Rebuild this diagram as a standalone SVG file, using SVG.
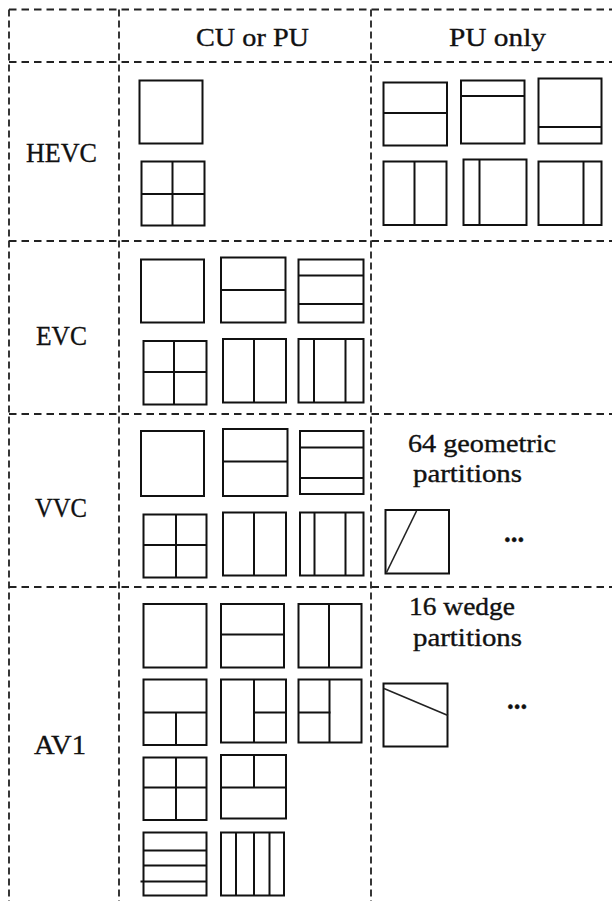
<svg xmlns="http://www.w3.org/2000/svg" width="612" height="901" viewBox="0 0 612 901">
  <style>
    .bg { fill: #ffffff; }
    .gh { stroke: #222; stroke-width: 2; stroke-dasharray: 7.5 5; fill: none; }
    .gv { stroke: #222; stroke-width: 1.8; stroke-dasharray: 7 4; fill: none; }
    .blk { fill: none; stroke: #111; stroke-width: 2; }
    .div { stroke: #111; stroke-width: 2; fill: none; }
    .diag { stroke: #222; stroke-width: 1.6; fill: none; }
    .hd, .lbl, .note, .dots { font-family: "Liberation Serif", "Times New Roman", serif; fill: #111; stroke: #111; stroke-width: 0.35; }
    .hd { font-size: 26px; }
    .lbl { font-size: 27px; }
    .note { font-size: 25px; }
    .dots { font-size: 27px; font-weight: bold; }
  </style>

  <rect class="bg" x="0" y="0" width="612" height="901"/>

  <!-- dashed table grid -->
  <g id="grid">
    <line class="gh" x1="9" y1="9.5" x2="612" y2="9.5"/>
    <line class="gh" x1="9" y1="62" x2="612" y2="62"/>
    <line class="gh" x1="9" y1="241" x2="612" y2="241"/>
    <line class="gh" x1="9" y1="414" x2="612" y2="414"/>
    <line class="gh" x1="9" y1="587" x2="612" y2="587"/>
    <line class="gv" x1="9" y1="9.5" x2="9" y2="901"/>
    <line class="gv" x1="119" y1="9.5" x2="119" y2="901"/>
    <line class="gv" x1="371" y1="9.5" x2="371" y2="901"/>
  </g>

  <!-- column headings -->
  <g id="headings">
    <text class="hd" x="196" y="46" textLength="113" lengthAdjust="spacingAndGlyphs">CU or PU</text>
    <text class="hd" x="449" y="46" textLength="97" lengthAdjust="spacingAndGlyphs">PU only</text>
  </g>

  <!-- row labels -->
  <g id="row-labels">
    <text class="lbl" x="26" y="162" textLength="71" lengthAdjust="spacingAndGlyphs">HEVC</text>
    <text class="lbl" x="36" y="345" textLength="51" lengthAdjust="spacingAndGlyphs">EVC</text>
    <text class="lbl" x="35" y="517" textLength="52" lengthAdjust="spacingAndGlyphs">VVC</text>
    <text class="lbl" x="34" y="754" textLength="52" lengthAdjust="spacingAndGlyphs">AV1</text>
  </g>

  <!-- HEVC: CU or PU -->
  <g id="hevc-cu">
    <rect class="blk" x="139.5" y="80.5" width="63" height="63"/>
    <rect class="blk" x="141.5" y="161.5" width="63" height="64"/>
    <line class="div" x1="172.5" y1="161.5" x2="172.5" y2="225.5"/>
    <line class="div" x1="141.5" y1="194" x2="204.5" y2="194"/>
  </g>

  <!-- HEVC: PU only -->
  <g id="hevc-pu">
    <rect class="blk" x="383.5" y="82.5" width="63.5" height="63"/>
    <line class="div" x1="383.5" y1="113" x2="447" y2="113"/>
    <rect class="blk" x="461" y="80.5" width="63.5" height="63"/>
    <line class="div" x1="461" y1="96" x2="524.5" y2="96"/>
    <rect class="blk" x="538.5" y="78.5" width="63" height="65"/>
    <line class="div" x1="538.5" y1="127" x2="601.5" y2="127"/>
    <rect class="blk" x="383.5" y="161.5" width="63" height="63.5"/>
    <line class="div" x1="414.5" y1="161.5" x2="414.5" y2="225"/>
    <rect class="blk" x="463.5" y="159.5" width="63" height="65.5"/>
    <line class="div" x1="479.5" y1="159.5" x2="479.5" y2="225"/>
    <rect class="blk" x="538.5" y="161.5" width="63" height="63.5"/>
    <line class="div" x1="583.5" y1="161.5" x2="583.5" y2="225"/>
  </g>

  <!-- EVC: CU or PU -->
  <g id="evc-cu">
    <rect class="blk" x="141" y="259.5" width="63" height="63"/>
    <rect class="blk" x="221" y="257.5" width="64.5" height="65"/>
    <line class="div" x1="221" y1="290" x2="285.5" y2="290"/>
    <rect class="blk" x="298.5" y="259.5" width="65" height="63"/>
    <line class="div" x1="298.5" y1="275.5" x2="363.5" y2="275.5"/>
    <line class="div" x1="298.5" y1="304" x2="363.5" y2="304"/>
    <rect class="blk" x="143.5" y="341" width="63" height="63.5"/>
    <line class="div" x1="174" y1="341" x2="174" y2="404.5"/>
    <line class="div" x1="143.5" y1="372" x2="206.5" y2="372"/>
    <rect class="blk" x="223" y="339" width="63" height="63.5"/>
    <line class="div" x1="254" y1="339" x2="254" y2="402.5"/>
    <rect class="blk" x="298.5" y="339" width="65" height="63.5"/>
    <line class="div" x1="314" y1="339" x2="314" y2="402.5"/>
    <line class="div" x1="345.5" y1="339" x2="345.5" y2="402.5"/>
  </g>

  <!-- VVC: CU or PU -->
  <g id="vvc-cu">
    <rect class="blk" x="141" y="431" width="63" height="65"/>
    <rect class="blk" x="223" y="429" width="64.5" height="67"/>
    <line class="div" x1="223" y1="461.5" x2="287.5" y2="461.5"/>
    <rect class="blk" x="300" y="431" width="63.5" height="63"/>
    <line class="div" x1="300" y1="447.5" x2="363.5" y2="447.5"/>
    <line class="div" x1="300" y1="478" x2="363.5" y2="478"/>
    <rect class="blk" x="143.5" y="514.5" width="63" height="63"/>
    <line class="div" x1="176" y1="514.5" x2="176" y2="577.5"/>
    <line class="div" x1="143.5" y1="545" x2="206.5" y2="545"/>
    <rect class="blk" x="223" y="512.5" width="63" height="63"/>
    <line class="div" x1="254" y1="512.5" x2="254" y2="575.5"/>
    <rect class="blk" x="300" y="512.5" width="63.5" height="63"/>
    <line class="div" x1="314.5" y1="512.5" x2="314.5" y2="575.5"/>
    <line class="div" x1="345.5" y1="512.5" x2="345.5" y2="575.5"/>
  </g>

  <!-- VVC: geometric partitions -->
  <g id="vvc-pu">
    <text class="note" x="408" y="452" textLength="148" lengthAdjust="spacingAndGlyphs">64 geometric</text>
    <text class="note" x="413" y="482" textLength="109" lengthAdjust="spacingAndGlyphs">partitions</text>
    <rect class="blk" x="385.5" y="510" width="63.5" height="63.5"/>
    <line class="diag" x1="386.5" y1="572.5" x2="416.5" y2="511"/>
    <text class="dots" x="504" y="542">...</text>
  </g>

  <!-- AV1: CU or PU -->
  <g id="av1-cu">
    <rect class="blk" x="143.5" y="604" width="63" height="63.5"/>
    <rect class="blk" x="221" y="604" width="63" height="63.5"/>
    <line class="div" x1="221" y1="634.5" x2="284" y2="634.5"/>
    <rect class="blk" x="298.5" y="604" width="63" height="63.5"/>
    <line class="div" x1="329" y1="604" x2="329" y2="667.5"/>

    <rect class="blk" x="143.5" y="679.5" width="63" height="65.5"/>
    <line class="div" x1="143.5" y1="712.5" x2="206.5" y2="712.5"/>
    <line class="div" x1="176" y1="712.5" x2="176" y2="745"/>
    <rect class="blk" x="221" y="679.5" width="65" height="63"/>
    <line class="div" x1="254" y1="679.5" x2="254" y2="742.5"/>
    <line class="div" x1="254" y1="712.5" x2="286" y2="712.5"/>
    <rect class="blk" x="298.5" y="679.5" width="63" height="63"/>
    <line class="div" x1="329.5" y1="679.5" x2="329.5" y2="742.5"/>
    <line class="div" x1="298.5" y1="712.5" x2="330.5" y2="712.5"/>

    <rect class="blk" x="143.5" y="757.5" width="63" height="62.5"/>
    <line class="div" x1="176" y1="757.5" x2="176" y2="820"/>
    <line class="div" x1="143.5" y1="787.5" x2="206.5" y2="787.5"/>
    <rect class="blk" x="221" y="755" width="65" height="63.5"/>
    <line class="div" x1="221" y1="787.5" x2="286" y2="787.5"/>
    <line class="div" x1="254" y1="755" x2="254" y2="787.5"/>

    <rect class="blk" x="143.5" y="832.5" width="63" height="63"/>
    <line class="div" x1="143.5" y1="850.5" x2="206.5" y2="850.5"/>
    <line class="div" x1="143.5" y1="865.5" x2="206.5" y2="865.5"/>
    <line class="div" x1="140.5" y1="881.5" x2="206.5" y2="881.5"/>
    <rect class="blk" x="221" y="832.5" width="63" height="63"/>
    <line class="div" x1="236" y1="832.5" x2="236" y2="895.5"/>
    <line class="div" x1="254" y1="832.5" x2="254" y2="895.5"/>
    <line class="div" x1="269.5" y1="832.5" x2="269.5" y2="895.5"/>
  </g>

  <!-- AV1: wedge partitions -->
  <g id="av1-pu">
    <text class="note" x="409" y="615" textLength="106" lengthAdjust="spacingAndGlyphs">16 wedge</text>
    <text class="note" x="413" y="646" textLength="109" lengthAdjust="spacingAndGlyphs">partitions</text>
    <rect class="blk" x="383.5" y="683.5" width="64" height="63"/>
    <line class="diag" x1="384" y1="688.5" x2="448" y2="715.5"/>
    <text class="dots" x="507" y="709">...</text>
  </g>
</svg>
